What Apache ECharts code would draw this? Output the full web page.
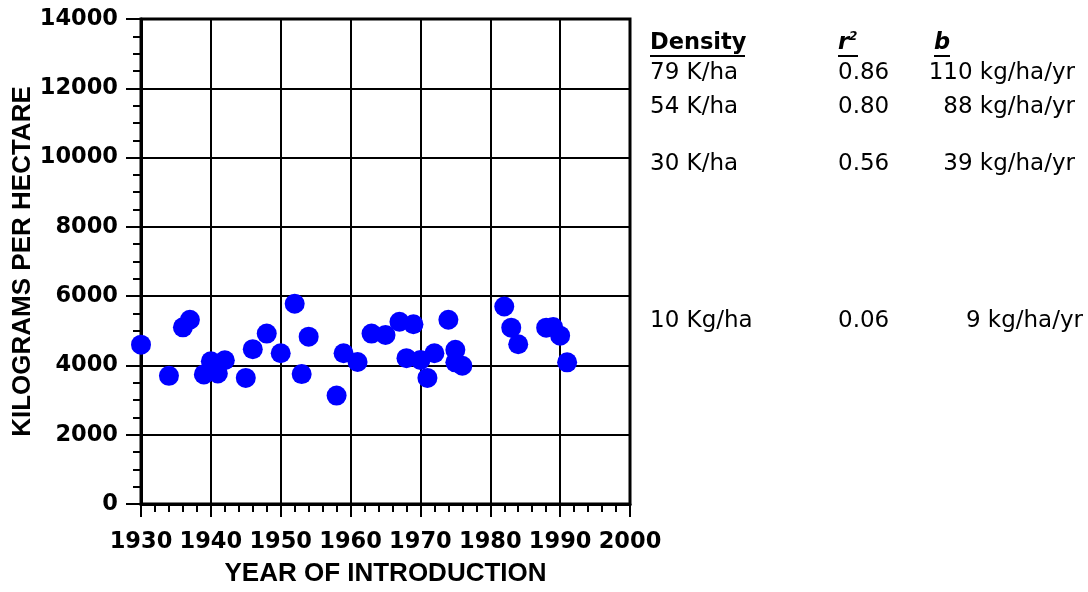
<!DOCTYPE html>
<html>
<head>
<meta charset="utf-8">
<script src="https://cdn.jsdelivr.net/npm/echarts@6/dist/echarts.min.js"></script>
<style>
html,body{margin:0;padding:0;background:#fff;}
#chart{width:1088px;height:592px;}
</style>
</head>
<body>
<div id="chart"></div>
<script>
// ---- data ----
var years  = [1930,1934,1936,1937,1939,1940,1941,1942,1945,1946,1948,1950,1952,1953,1954,1958,1959,1961,1963,1965,1967,1969,1968,1970,1972,1971,1974,1975,1975,1976,1982,1983,1984,1988,1989,1990,1991];
var yields = [4600,3700,5100,5320,3740,4120,3770,4150,3640,4470,4920,4350,5780,3750,4830,3130,4350,4100,4920,4880,5260,5190,4210,4160,4350,3640,5320,4450,4090,3990,5700,5090,4610,5090,5110,4860,4090];

var densities = ['79 K/ha','54 K/ha','30 K/ha','10 Kg/ha'];
var r2Values  = ['0.86','0.80','0.56','0.06'];
var slopes    = ['110 kg/ha/yr','88 kg/ha/yr','39 kg/ha/yr','9 kg/ha/yr'];
var headers   = ['Density','r','b'];

var xTitle = 'YEAR OF INTRODUCTION';
var yTitle = 'KILOGRAMS PER HECTARE';

// ---- layout helpers ----
var rowY = [73.5, 107, 164, 321];
var slopeRight = [1075, 1075, 1075, 1083];
var pts = years.map(function(y,i){ return [y, yields[i]]; });

var chart = echarts.init(document.getElementById('chart'));
var tableFont = '23px "DejaVu Sans"';
var graphics = [];
// headers
graphics.push({type:'text', style:{x:650, y:43, text:headers[0], font:'bold 22.5px "DejaVu Sans"', fill:'#000', align:'left', verticalAlign:'middle'}});
graphics.push({type:'line', shape:{x1:650,y1:56,x2:745,y2:56}, style:{stroke:'#000', lineWidth:2}});
graphics.push({type:'text', style:{x:838, y:43, text:'{r|' + headers[1] + '}{s|2}', rich:{r:{font:'bold italic 22.5px "DejaVu Sans"', fill:'#000'}, s:{font:'bold italic 12px "DejaVu Sans"', fill:'#000', verticalAlign:'top', padding:[0,0,12,0]}}, align:'left', verticalAlign:'middle'}});
graphics.push({type:'line', shape:{x1:838,y1:56,x2:858,y2:56}, style:{stroke:'#000', lineWidth:2}});
graphics.push({type:'text', style:{x:934, y:43, text:headers[2], font:'bold italic 22.5px "DejaVu Sans"', fill:'#000', align:'left', verticalAlign:'middle'}});
graphics.push({type:'line', shape:{x1:934,y1:56,x2:950,y2:56}, style:{stroke:'#000', lineWidth:2}});
for (var i=0;i<densities.length;i++){
  graphics.push({type:'text', style:{x:650, y:rowY[i], text:densities[i], font:tableFont, fill:'#000', align:'left', verticalAlign:'middle'}});
  graphics.push({type:'text', style:{x:838, y:rowY[i], text:r2Values[i], font:tableFont, fill:'#000', align:'left', verticalAlign:'middle'}});
  graphics.push({type:'text', style:{x:slopeRight[i], y:rowY[i], text:slopes[i], font:tableFont, fill:'#000', align:'right', verticalAlign:'middle'}});
}

var axisLabelStyle = {color:'#000', fontFamily:'DejaVu Sans', fontWeight:'bold', fontSize:22.5, formatter:function(v){ return String(v); }};

chart.setOption({
  animation:false,
  backgroundColor:'#fff',
  grid:{left:141, top:19, width:489, height:489, show:true, borderColor:'#000', borderWidth:3, backgroundColor:'transparent'},
  xAxis:{
    type:'value', min:1930, max:2000, interval:10,
    name:xTitle, nameLocation:'middle', nameGap:57,
    nameTextStyle:{color:'#000', fontFamily:'Liberation Sans', fontWeight:'bold', fontSize:26},
    axisLine:{show:true, lineStyle:{color:'#000', width:3}},
    axisTick:{show:true, inside:false, length:13, lineStyle:{color:'#000', width:2}},
    minorTick:{show:true, splitNumber:5, length:8, lineStyle:{color:'#000', width:2}},
    splitLine:{show:true, lineStyle:{color:'#000', width:2}},
    axisLabel:Object.assign({margin:27}, axisLabelStyle)
  },
  yAxis:{
    type:'value', min:0, max:14000, interval:2000,
    name:yTitle, nameLocation:'middle', nameGap:101, nameRotate:90,
    nameTextStyle:{color:'#000', fontFamily:'Liberation Sans', fontWeight:'bold', fontSize:26},
    axisLine:{show:true, lineStyle:{color:'#000', width:3}},
    axisTick:{show:true, inside:false, length:15, lineStyle:{color:'#000', width:2}},
    minorTick:{show:true, splitNumber:4, length:8, lineStyle:{color:'#000', width:2}},
    splitLine:{show:true, lineStyle:{color:'#000', width:2}},
    axisLabel:Object.assign({margin:23}, axisLabelStyle)
  },
  series:[{
    type:'scatter', data:pts, symbol:'circle', symbolSize:20,
    itemStyle:{color:'#0000FF', opacity:1}
  }],
  graphic:graphics
});
</script>
</body>
</html>
